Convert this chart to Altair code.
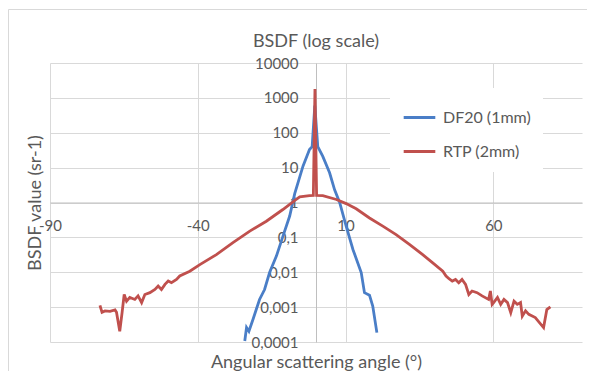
import altair as alt
import pandas as pd

# ---- data ----
df20_angle = [-24.1, -23.5, -22.7, -21.3, -19.1, -17.4, -15.7, -13.4, -11.2, -8.9, -7.2, -4.4, -2.2, -1.3,
              -0.4, 0.6, 2.3, 4.6, 6.3, 8.0, 10.2, 12.5, 15.3, 16.4, 18.1, 19.2, 20.6]
df20_bsdf = [0.000107, 0.00026, 0.000204, 0.00045, 0.00166, 0.0032, 0.0098, 0.029, 0.107, 0.41, 1.8, 11, 33, 40,
             600, 40, 21, 7.1, 2.3, 1.0, 0.21, 0.045, 0.0098, 0.0026, 0.0022, 0.00107, 0.000186]

rtp_angle = [-73.1, -72.4, -71.4, -69.7, -68.0, -67.5, -66.4, -65.6, -64.9, -64.1, -63.0, -61.3, -60.2, -59.0,
             -57.9, -56.2, -54.5, -53.4, -52.3, -51.1, -50.0, -48.9, -47.2, -46.1, -42.7, -39.3, -33.7, -28.1,
             -22.4, -16.8, -11.2, -6.7, -5.5, -2.2, -0.9, -0.35, 0.2, 2.3, 6.9, 10.2, 13.6, 18.1, 22.6, 27.1,
             31.6, 36.1, 39.5, 42.9, 44.0, 45.0, 46.1, 47.2, 48.3, 49.4, 50.6, 51.7, 52.8, 54.5, 56.2, 58.4,
             59.0, 59.6, 60.1, 61.4, 62.5, 63.6, 64.8, 65.9, 67.0, 68.1, 69.2, 69.8, 70.9, 72.0, 74.2, 77.0,
             78.1, 79.3]
rtp_bsdf = [0.00112, 0.00071, 0.00078, 0.00076, 0.00083, 0.00071, 0.000204, 0.00071, 0.0023, 0.00148, 0.0019,
            0.00166, 0.0021, 0.00135, 0.0023, 0.0026, 0.0032, 0.0040, 0.0032, 0.0045, 0.0056, 0.0050, 0.0062,
            0.0078, 0.0107, 0.0166, 0.032, 0.071, 0.151, 0.29, 0.63, 1.23, 1.46, 1.58, 1.6, 1800, 1.6, 1.58,
            1.22, 0.93, 0.66, 0.36, 0.21, 0.12, 0.063, 0.032, 0.0186, 0.0107, 0.0078, 0.0065, 0.0056, 0.0062,
            0.0050, 0.0062, 0.0045, 0.0023, 0.0029, 0.0026, 0.0021, 0.00166, 0.0029, 0.0012, 0.00135, 0.0019,
            0.0012, 0.00166, 0.00135, 0.00069, 0.00148, 0.0012, 0.00135, 0.00055, 0.00078, 0.00062, 0.0005,
            0.00026, 0.00085, 0.00102]

series_names = ["DF20 (1mm)", "RTP (2mm)"]
series_colors = ["#4A7EC7", "#C0504D"]
x_ticks = [-90, -40, 10, 60]
y_ticks = [0.0001, 0.001, 0.01, 0.1, 1, 10, 100, 1000, 10000]
chart_title = "BSDF (log scale)"

rows = []
for i, (a, v) in enumerate(zip(df20_angle, df20_bsdf)):
    rows.append({"series": series_names[0], "angle": a, "bsdf": v, "i": i})
for i, (a, v) in enumerate(zip(rtp_angle, rtp_bsdf)):
    rows.append({"series": series_names[1], "angle": a, "bsdf": v, "i": i})
data = pd.DataFrame(rows)

FONT = "Lato"
GREY = "#595959"
W, H = 532, 279

lines = alt.Chart(data).mark_line(strokeWidth=2.8).encode(
    x=alt.X("angle:Q",
            scale=alt.Scale(domain=[-90, 90], nice=False, zero=False),
            axis=alt.Axis(values=x_ticks, grid=True, gridColor="#d9d9d9", domainColor="#bfbfbf",
                          ticks=False, tickSize=0, labelPadding=16, offset=-139.5,
                          labelExpr="toString(datum.value)", labelFlush=False,
                          labelFontSize=15, labelColor=GREY, labelFont=FONT,
                          title="Angular scattering angle (°)", titleFont=FONT, titleFontSize=18,
                          titleFontWeight="normal", titleColor=GREY, titleY=160, titleBaseline="middle")),
    y=alt.Y("bsdf:Q",
            scale=alt.Scale(type="log", domain=[0.0001, 10000], nice=False),
            axis=alt.Axis(values=y_ticks, grid=True, gridColor="#d9d9d9", domainColor="#bfbfbf",
                          ticks=False, tickSize=0, labelPadding=18, offset=-266,
                          labelExpr="replace(toString(datum.value), '.', ',')", labelFlush=False,
                          labelFontSize=15, labelColor=GREY, labelFont=FONT,
                          title="BSDF value (sr-1)", titleFont=FONT, titleFontSize=18,
                          titleFontWeight="normal", titleColor=GREY, titleX=-281, titleY=139.5,
                          titleBaseline="middle", titleAngle=-90)),
    color=alt.Color("series:N",
                    scale=alt.Scale(domain=series_names, range=series_colors),
                    legend=alt.Legend(orient="none", legendX=340, legendY=25, title=None,
                                      symbolType="stroke", symbolSize=1000, symbolStrokeWidth=3,
                                      labelFontSize=16, labelFont=FONT, labelColor=GREY,
                                      fillColor="white", padding=12, rowPadding=8, labelOffset=6)),
    order="i:Q",
)

border = alt.Chart(pd.DataFrame({"a": [0]})).mark_rect(
    fill=None, stroke="#d9d9d9", strokeWidth=1
).encode(x=alt.value(-41.5), x2=alt.value(600), y=alt.value(-53.5), y2=alt.value(400))

title = alt.Chart(pd.DataFrame({"t": [chart_title]})).mark_text(
    font=FONT, fontSize=18, color=GREY, baseline="middle", align="center"
).encode(text="t:N", x=alt.value(W / 2), y=alt.value(-21))

chart = alt.layer(border, lines, title).properties(
    width=W, height=H,
    autosize=alt.AutoSizeParams(type="none"),
    padding={"left": 42, "top": 55, "right": 5, "bottom": 29},
).configure_view(stroke=None)

chart.save("out.html", embed_options={"renderer": "svg", "actions": False})
